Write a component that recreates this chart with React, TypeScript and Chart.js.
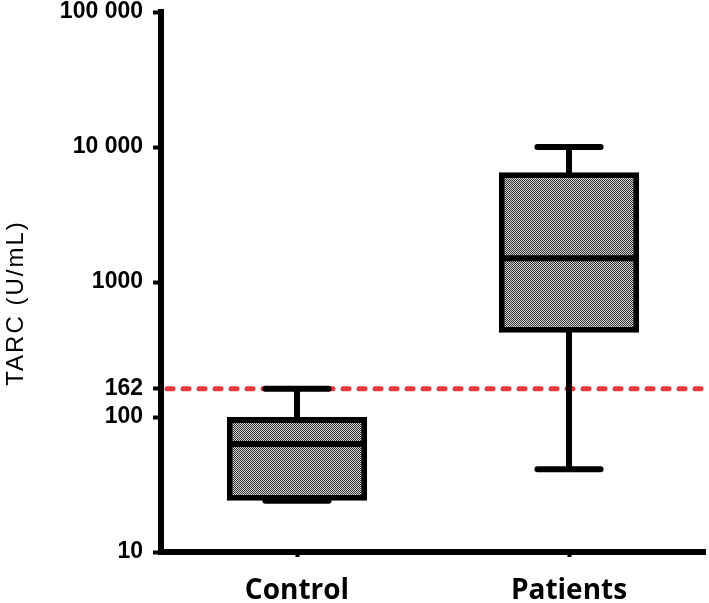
import React, { useEffect, useRef } from "react";
import { Chart, registerables } from "chart.js";

Chart.register(...registerables);

const categories = ["Control", "Patients"];
const mins = [24, 41];
const q1s = [24, 420];
const medians = [63, 1500];
const q3s = [100, 6500];
const maxs = [162, 10000];
const cutoff = 162;
const yTicks = [10, 100, 162, 1000, 10000, 100000];
const yTickLabels = ["10", "100", "162", "1000", "10 000", "100 000"];
const yTitle = "TARC (U/mL)";

function makePattern(): CanvasPattern | string {
  const c = document.createElement("canvas");
  c.width = 2;
  c.height = 2;
  const g = c.getContext("2d");
  if (!g) return "#888";
  g.fillStyle = "#d2d2d2";
  g.fillRect(0, 0, 2, 2);
  g.fillStyle = "#343434";
  g.fillRect(0, 0, 1, 1);
  g.fillRect(1, 1, 1, 1);
  const p = g.createPattern(c, "repeat");
  return p || "#888";
}

export default function App() {
  const ref = useRef<HTMLCanvasElement | null>(null);

  useEffect(() => {
    document.body.style.margin = "0";
    const canvas = ref.current;
    if (!canvas) return;

    const cutoffPlugin = {
      id: "cutoff",
      beforeDatasetsDraw(chart: any) {
        const { ctx, chartArea, scales } = chart;
        const y = scales.y.getPixelForValue(cutoff);
        ctx.save();
        ctx.strokeStyle = "#e8393c";
        ctx.lineWidth = 5;
        ctx.lineCap = "round";
        ctx.setLineDash([6, 10]);
        ctx.beginPath();
        ctx.moveTo(chartArea.left + 6, y);
        ctx.lineTo(chart.width - 4, y);
        ctx.stroke();
        ctx.restore();
      },
    };

    const boxPlugin = {
      id: "boxExtras",
      afterDatasetsDraw(chart: any) {
        const { ctx, scales } = chart;
        const meta = chart.getDatasetMeta(0);
        ctx.save();
        ctx.strokeStyle = "#000";
        ctx.lineCap = "round";
        meta.data.forEach((bar: any, i: number) => {
          const x = bar.x;
          const w = bar.width;
          const cap = w * 0.225;
          const yMin = scales.y.getPixelForValue(mins[i]);
          const yMax = scales.y.getPixelForValue(maxs[i]);
          const yQ1 = scales.y.getPixelForValue(q1s[i]);
          const yQ3 = scales.y.getPixelForValue(q3s[i]);
          const yMed = scales.y.getPixelForValue(medians[i]);
          ctx.lineWidth = 6;
          ctx.beginPath();
          ctx.moveTo(x, yQ3);
          ctx.lineTo(x, yMax);
          ctx.moveTo(x, yQ1);
          ctx.lineTo(x, yMin);
          ctx.moveTo(x - cap, yMax);
          ctx.lineTo(x + cap, yMax);
          ctx.moveTo(x - cap, yMin);
          ctx.lineTo(x + cap, yMin);
          ctx.stroke();
          ctx.lineCap = "butt";
          ctx.beginPath();
          ctx.moveTo(x - w / 2 + 3, yMed);
          ctx.lineTo(x + w / 2 - 3, yMed);
          ctx.stroke();
          ctx.lineCap = "round";
        });
        ctx.restore();
      },
    };

    const titlePlugin = {
      id: "yTitle",
      afterDraw(chart: any) {
        const { ctx } = chart;
        ctx.save();
        ctx.translate(16, 303);
        ctx.rotate(-Math.PI / 2);
        ctx.font = '24px "Liberation Sans", Arial, sans-serif';
        (ctx as any).letterSpacing = "2px";
        ctx.fillStyle = "#000";
        ctx.textAlign = "center";
        ctx.textBaseline = "middle";
        ctx.fillText(yTitle, 0, 0);
        ctx.restore();
      },
    };

    const chart = new Chart(canvas, {
      type: "bar",
      data: {
        labels: categories,
        datasets: [
          {
            data: categories.map((_, i) => [q1s[i], q3s[i]]) as any,
            backgroundColor: makePattern() as any,
            borderColor: "#000",
            borderWidth: 6,
            borderSkipped: false,
            barPercentage: 0.516,
            categoryPercentage: 1,
          },
        ],
      },
      options: {
        animation: false,
        responsive: false,
        maintainAspectRatio: false,
        layout: { padding: { left: 0, right: 4, top: 0, bottom: 0 } },
        plugins: {
          legend: { display: false },
          tooltip: { enabled: false },
        },
        scales: {
          x: {
            type: "category",
            offset: true,
            grid: {
              display: true,
              drawOnChartArea: false,
              drawTicks: true,
              tickLength: 5,
              tickWidth: 4,
              tickColor: "#000",
              offset: false,
            },
            border: { display: true, width: 6, color: "#000" },
            ticks: {
              color: "#000",
              padding: 20,
              font: { family: "'Open Sans', sans-serif", size: 28, weight: "bold", lineHeight: 1 },
            },
            afterFit(s: any) {
              s.height = 51;
            },
          },
          y: {
            type: "logarithmic",
            min: 10,
            max: 100000,
            grid: {
              display: true,
              drawOnChartArea: false,
              drawTicks: true,
              tickLength: 8,
              tickWidth: 4,
              tickColor: "#000",
            },
            border: { display: true, width: 6, color: "#000" },
            ticks: {
              color: "#000",
              padding: 10,
              autoSkip: false,
              font: { family: "'Liberation Sans', Arial, sans-serif", size: 23, weight: "bold" },
              callback: (_v: any, i: number) => yTickLabels[i],
            },
            afterBuildTicks(s: any) {
              s.ticks = yTicks.map((v) => ({ value: v }));
            },
            afterFit(s: any) {
              s.width = 161;
              s.paddingTop = 12;
              s.paddingBottom = 0;
            },
          },
        },
      },
      plugins: [cutoffPlugin, boxPlugin, titlePlugin],
    });

    return () => chart.destroy();
  }, []);

  return <canvas ref={ref} width={709} height={603} style={{ display: "block" }} />;
}
